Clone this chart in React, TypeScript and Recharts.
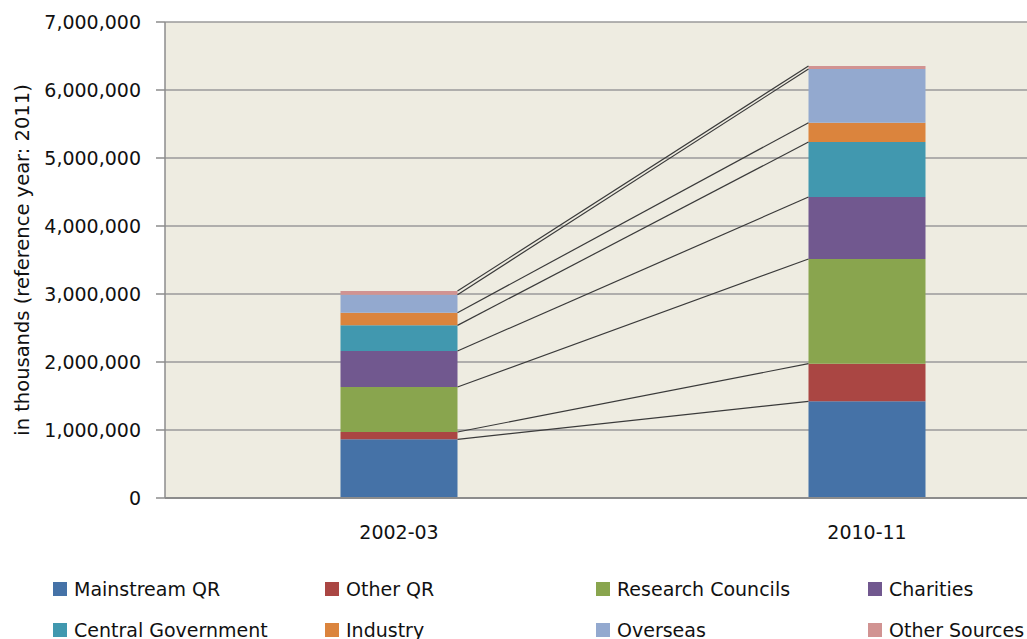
import React from 'react';
import { ComposedChart, Bar, Line, XAxis, YAxis, CartesianGrid } from 'recharts';

const categories = ['2002-03', '2010-11'];
const seriesNames = [
  'Mainstream QR',
  'Other QR',
  'Research Councils',
  'Charities',
  'Central Government',
  'Industry',
  'Overseas',
  'Other Sources',
];
const mainstreamQR = [863000, 1422000];
const otherQR = [108000, 553000];
const researchCouncils = [661000, 1540000];
const charities = [530000, 911000];
const centralGovernment = [377000, 809000];
const industry = [186000, 284000];
const overseas = [265000, 790000];
const otherSources = [54000, 44000];
const yTicks = [0, 1000000, 2000000, 3000000, 4000000, 5000000, 6000000, 7000000];
const yLabel = 'in thousands (reference year: 2011)';

const seriesValues = [
  mainstreamQR,
  otherQR,
  researchCouncils,
  charities,
  centralGovernment,
  industry,
  overseas,
  otherSources,
];
const colors = ['#4572A7', '#AA4643', '#89A54E', '#71588F', '#4198AF', '#DB843D', '#93A9CF', '#D19392'];

const BAR_FRACTION = 0.25; // bar width as share of band
const FONT = "'DejaVu Sans', sans-serif";

const data = categories.map((c, i) => {
  const row: Record<string, any> = { category: c };
  seriesNames.forEach((n, k) => {
    row[n] = seriesValues[k][i];
  });
  return row;
});

// cumulative top of each series in each category
const tops = seriesValues.map((_, k) =>
  categories.map((__, i) => seriesValues.slice(0, k + 1).reduce((s, arr) => s + arr[i], 0))
);

// series-line data: from right edge of first bar to left edge of second bar (band = 2 units)
const seriesLineData = tops.map((t) => [
  { pos: 1 + BAR_FRACTION, v: t[0] },
  { pos: 3 - BAR_FRACTION, v: t[1] },
]);

const fmt = (v: number) => v.toLocaleString('en-US');

const legendCols = [53, 325, 596, 868];
const legendRows = [589, 630];

export default function App() {
  return (
    <div style={{ position: 'absolute', left: 0, top: 0, width: 1027, height: 639, overflow: 'hidden', background: '#fff' }}>
      <ComposedChart
        width={1110}
        height={639}
        data={data}
        margin={{ top: 22, right: 9, bottom: 111, left: 0 }}
        barCategoryGap={`${((1 - BAR_FRACTION) / 2) * 100}%`}
      >
        <CartesianGrid vertical={false} stroke="#9a9a9a" strokeWidth={1.5} fill="#EEECE1" xAxisId="cat" />
        <XAxis
          xAxisId="cat"
          dataKey="category"
          type="category"
          height={30}
          axisLine={{ stroke: '#8c8c8c', strokeWidth: 2 }}
          tickLine={false}
          tickMargin={22}
          tick={{ fontFamily: FONT, fontSize: 19, fill: '#111' }}
        />
        <XAxis
          xAxisId="num"
          dataKey="pos"
          type="number"
          domain={[0, categories.length * 2]}
          hide
          allowDataOverflow
        />
        <YAxis
          width={165}
          domain={[0, 7000000]}
          ticks={yTicks}
          interval={0}
          tickFormatter={fmt}
          axisLine={{ stroke: '#8c8c8c', strokeWidth: 1.5 }}
          tickLine={{ stroke: '#8c8c8c', strokeWidth: 1.5 }}
          tickSize={9}
          tickMargin={15}
          tick={{ fontFamily: FONT, fontSize: 19, fill: '#111' }}
          label={{
            content: (props: any) => {
              const vb = props.viewBox || {};
              const cx = (vb.x || 0) + 22;
              const cy = (vb.y || 0) + (vb.height || 0) / 2;
              return (
                <text
                  x={cx}
                  y={cy}
                  transform={`rotate(-90 ${cx} ${cy})`}
                  textAnchor="middle"
                  dominantBaseline="central"
                  fontFamily={FONT}
                  fontSize={19.5}
                  fill="#111"
                >
                  {yLabel}
                </text>
              );
            },
          }}
        />
        {seriesNames.map((n, k) => (
          <Bar key={n} xAxisId="cat" dataKey={n} stackId="a" fill={colors[k]} isAnimationActive={false} />
        ))}
        {seriesNames.map((n, k) => (
          <Line
            key={`line-${n}`}
            xAxisId="num"
            data={seriesLineData[k]}
            dataKey="v"
            type="linear"
            stroke="#3a3a3a"
            strokeWidth={1.2}
            dot={false}
            activeDot={false}
            legendType="none"
            isAnimationActive={false}
          />
        ))}
      </ComposedChart>
      {seriesNames.map((n, k) => {
        const col = legendCols[k % 4];
        const row = legendRows[Math.floor(k / 4)];
        return (
          <div
            key={`leg-${n}`}
            style={{
              position: 'absolute',
              left: col,
              top: row - 12,
              height: 24,
              display: 'flex',
              alignItems: 'center',
              whiteSpace: 'nowrap',
              fontFamily: FONT,
              fontSize: 19,
              color: '#111',
            }}
          >
            <span style={{ display: 'inline-block', width: 14, height: 14, background: colors[k], marginRight: 7 }} />
            <span>{n}</span>
          </div>
        );
      })}
    </div>
  );
}
